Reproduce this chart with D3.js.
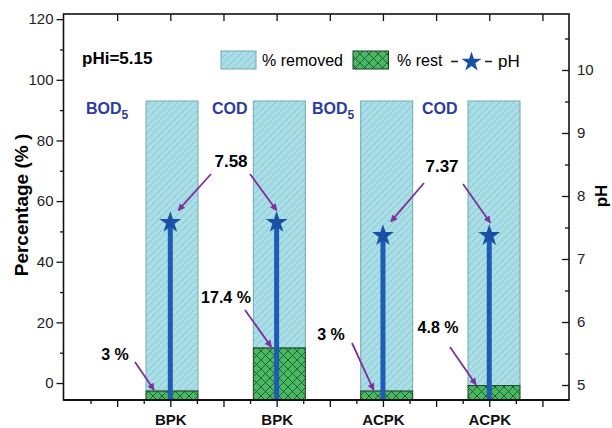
<!DOCTYPE html>
<html><head><meta charset="utf-8">
<script src="https://cdn.jsdelivr.net/npm/d3@7"></script>
<style>
body{margin:0;background:#fff}
svg{display:block;font-family:"Liberation Sans",Arial,Helvetica,sans-serif}
</style>
</head><body>
<svg id="c" width="612" height="428"></svg>
<script>
// ---------- data ----------
const categories = ["BPK", "BPK", "ACPK", "ACPK"];
const parameters = ["BOD", "COD", "BOD", "COD"];
const parameterSubs = ["5", "", "5", ""];
const removedPct = [97, 82.6, 97, 95.2];
const restPct = [3, 17.4, 3, 4.8];
const phValues = [7.58, 7.58, 7.37, 7.37];
const restLabels = ["3 %", "17.4 %", "3 %", "4.8 %"];
const phLabels = ["7.58", "7.37"];
const leftTicks = [0, 20, 40, 60, 80, 100, 120];
const leftMinor = [10, 30, 50, 70, 90, 110];
const rightTicks = [5, 6, 7, 8, 9, 10];
const rightMinor = [5.5, 6.5, 7.5, 8.5, 9.5, 10.5];
const xMajor = [0.5, 1, 1.5, 2, 2.5, 3, 3.5, 4, 4.5];
const xMinor = [0.25, 0.75, 1.25, 1.75, 2.25, 2.75, 3.25, 3.75, 4.25];
const initialPH = "pHi=5.15";
const legendLabels = ["% removed", "% rest", "pH"];
const yTitle = "Percentage (% )";
const y2Title = "pH";

// ---------- layout ----------
const L = 63.5, R = 569, T = 14, B = 400;
const svg = d3.select("#c");

const x = d3.scaleLinear().domain([0, 4.75]).range([64, 569]);
const xBar = d3.scaleLinear().domain([1, 4]).range([172, 494]);
const barW = 52;
const y = d3.scaleLinear().domain([-5.6, 121.7]).range([B, T]);
const yBar = d3.scaleLinear().domain([0, 100]).range([B, 101]);
const yPH = d3.scaleLinear().domain([5, 10]).range([385, 70]);

// ---------- patterns ----------
const defs = svg.append("defs");
const pr = defs.append("pattern").attr("id", "hatchR")
  .attr("patternUnits", "userSpaceOnUse").attr("width", 7).attr("height", 7);
pr.append("rect").attr("width", 7).attr("height", 7).attr("fill", "#a9dee6");
pr.append("path").attr("d", "M-1,1 L1,-1 M0,7 L7,0 M6,8 L8,6")
  .attr("stroke", "#84c0ca").attr("stroke-width", 0.8);

const pc = defs.append("pattern").attr("id", "cross")
  .attr("patternUnits", "userSpaceOnUse").attr("width", 9).attr("height", 9);
pc.append("rect").attr("width", 9).attr("height", 9).attr("fill", "#48b862");
pc.append("path").attr("d", "M0,0 L9,9 M9,0 L0,9")
  .attr("stroke", "#1c4a27").attr("stroke-width", 0.8);

defs.append("marker").attr("id", "arr")
  .attr("viewBox", "0 0 10 10").attr("refX", 9).attr("refY", 5)
  .attr("markerWidth", 9).attr("markerHeight", 7)
  .attr("markerUnits", "userSpaceOnUse")
  .attr("orient", "auto")
  .append("path").attr("d", "M0,0 L10,5 L0,10 Z").attr("fill", "#7e2f9c");

// ---------- bars ----------
const idx = d3.range(categories.length);
svg.append("g").selectAll("rect.rem").data(idx).join("rect")
  .attr("x", i => xBar(i + 1) - barW / 2)
  .attr("y", i => yBar(restPct[i] + removedPct[i]))
  .attr("width", barW)
  .attr("height", i => yBar(restPct[i]) - yBar(restPct[i] + removedPct[i]))
  .attr("fill", "url(#hatchR)").attr("stroke", "#72a9b0").attr("stroke-width", 1);

svg.append("g").selectAll("rect.rest").data(idx).join("rect")
  .attr("x", i => xBar(i + 1) - barW / 2)
  .attr("y", i => yBar(restPct[i]))
  .attr("width", barW)
  .attr("height", i => yBar(0) - yBar(restPct[i]))
  .attr("fill", "url(#cross)").attr("stroke", "#1d3a22").attr("stroke-width", 1);

// ---------- pH drop lines & stars ----------
svg.append("g").selectAll("line").data(idx).join("line")
  .attr("x1", i => x(i + 1)).attr("x2", i => x(i + 1))
  .attr("y1", i => yPH(phValues[i])).attr("y2", B)
  .attr("stroke", "#1e5bb4").attr("stroke-width", 5);

const star = d3.symbol().type(d3.symbolStar).size(150);
svg.append("g").selectAll("path").data(idx).join("path")
  .attr("d", star)
  .attr("transform", i => `translate(${x(i + 1)},${yPH(phValues[i])})`)
  .attr("fill", "#1a4fa6");

// ---------- axes ----------
const gl = svg.append("g").attr("transform", `translate(${L},0)`);
gl.call(d3.axisLeft(y).tickValues(leftTicks).tickSize(7).tickPadding(3));
gl.append("g").call(d3.axisLeft(y).tickValues(leftMinor).tickSize(3.5).tickFormat(""));

const gr = svg.append("g").attr("transform", `translate(${R},0)`);
gr.call(d3.axisRight(yPH).tickValues(rightTicks).tickSizeInner(-7).tickSizeOuter(0).tickPadding(8).tickFormat(d3.format("d")));
gr.append("g").call(d3.axisRight(yPH).tickValues(rightMinor).tickSizeInner(-4).tickSizeOuter(0).tickFormat(""));

const gb = svg.append("g").attr("transform", `translate(0,${B})`);
gb.call(d3.axisBottom(x).tickValues(xMajor).tickSize(7).tickPadding(7)
  .tickFormat(d => Number.isInteger(d) ? categories[d - 1] : ""));
gb.append("g").call(d3.axisBottom(x).tickValues(xMinor).tickSize(4).tickFormat(""));

const gt = svg.append("g").attr("transform", `translate(0,${T})`);
gt.call(d3.axisTop(x).tickValues(xMajor).tickSizeInner(-7).tickSizeOuter(0).tickFormat(""));

svg.selectAll(".domain").remove();
svg.selectAll(".tick line").attr("stroke", "#111").attr("stroke-width", 1.3);
gl.selectAll(".tick text").attr("font-size", 15).attr("fill", "#222").attr("font-family", null);
gr.selectAll(".tick text").attr("font-size", 15).attr("fill", "#222").attr("font-family", null);
gb.selectAll(".tick text").attr("font-size", 15).attr("font-weight", "bold").attr("fill", "#111").attr("font-family", null);

// frame
svg.append("rect").attr("x", L).attr("y", T).attr("width", R - L).attr("height", B - T)
  .attr("fill", "none").attr("stroke", "#111").attr("stroke-width", 1.6);
svg.append("line").attr("x1", L).attr("x2", R).attr("y1", B).attr("y2", B)
  .attr("stroke", "#111").attr("stroke-width", 2.2);

// titles
svg.append("text").attr("transform", "translate(21,205) rotate(-90)")
  .attr("text-anchor", "middle").attr("dominant-baseline", "central")
  .attr("font-size", 19).attr("font-weight", "bold").text(yTitle);
svg.append("text").attr("transform", "translate(601,196) rotate(-90)")
  .attr("text-anchor", "middle").attr("dominant-baseline", "central")
  .attr("font-size", 17).attr("font-weight", "bold").text(y2Title);

// pHi label
svg.append("text").attr("x", 82).attr("y", 64).attr("font-size", 17)
  .attr("font-weight", "bold").text(initialPH);

// legend
const lg = svg.append("g");
lg.append("rect").attr("x", 221).attr("y", 51).attr("width", 35).attr("height", 18)
  .attr("fill", "url(#hatchR)").attr("stroke", "#72a9b0");
lg.append("text").attr("x", 262).attr("y", 66).attr("font-size", 16).text(legendLabels[0]);
lg.append("rect").attr("x", 353).attr("y", 51).attr("width", 35.5).attr("height", 18)
  .attr("fill", "url(#cross)").attr("stroke", "#1d3a22");
lg.append("text").attr("x", 397).attr("y", 66).attr("font-size", 16).text(legendLabels[1]);
lg.append("line").attr("x1", 451).attr("x2", 458).attr("y1", 61.5).attr("y2", 61.5)
  .attr("stroke", "#222").attr("stroke-width", 1.6);
lg.append("line").attr("x1", 485).attr("x2", 492).attr("y1", 61.5).attr("y2", 61.5)
  .attr("stroke", "#222").attr("stroke-width", 1.6);
lg.append("path").attr("d", d3.symbol().type(d3.symbolStar).size(125))
  .attr("transform", "translate(471.5,62)").attr("fill", "#1a4fa6");
lg.append("text").attr("x", 498).attr("y", 67).attr("font-size", 17).text(legendLabels[2]);

// parameter labels (BOD5 / COD)
const paramX = [86, 212, 312, 422];
idx.forEach(i => {
  const t = svg.append("text").attr("x", paramX[i]).attr("y", 114)
    .attr("font-size", 16).attr("font-weight", "bold").attr("fill", "#2c3d9b");
  t.append("tspan").text(parameters[i]);
  if (parameterSubs[i]) t.append("tspan").attr("dy", 5).attr("font-size", 12).text(parameterSubs[i]);
});

// ---------- annotations ----------
const arrowColor = "#7e2f9c";
function arrow(x1, y1, x2, y2) {
  svg.append("line").attr("x1", x1).attr("y1", y1).attr("x2", x2).attr("y2", y2)
    .attr("stroke", arrowColor).attr("stroke-width", 1.8).attr("marker-end", "url(#arr)");
}
// pH labels
const phLabelPos = [[231, 167], [442, 172]];
phLabels.forEach((s, k) => {
  svg.append("text").attr("x", phLabelPos[k][0]).attr("y", phLabelPos[k][1])
    .attr("text-anchor", "middle").attr("font-size", 17).attr("font-weight", "bold").text(s);
});
const phArrowStart = [[211, 174], [250, 174], [424, 183], [463, 184]];
const phArrowOff = [[8, -12], [0, -12], [8, -14], [1, -13]];
idx.forEach(i => arrow(phArrowStart[i][0], phArrowStart[i][1],
  x(i + 1) + phArrowOff[i][0], yPH(phValues[i]) + phArrowOff[i][1]));

// rest labels
const restLabelPos = [[115, 360], [226, 303], [331, 340], [438, 333]];
restLabels.forEach((s, i) => {
  svg.append("text").attr("x", restLabelPos[i][0]).attr("y", restLabelPos[i][1])
    .attr("text-anchor", "middle").attr("font-size", 16).attr("font-weight", "bold").text(s);
});
const restArrowStart = [[135, 362], [245, 310], [352, 343], [450, 347]];
const restArrowOffX = [-18, -8, -13, -18];
idx.forEach(i => arrow(restArrowStart[i][0], restArrowStart[i][1],
  xBar(i + 1) + restArrowOffX[i], yBar(restPct[i]) - 1));
</script>
</body></html>
